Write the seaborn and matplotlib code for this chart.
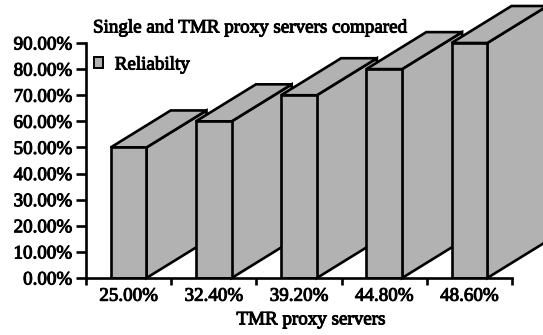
import numpy as np
import pandas as pd
import matplotlib
matplotlib.use("Agg")
import matplotlib.pyplot as plt
import matplotlib.patheffects as pe
from matplotlib.patches import Polygon, Patch
from matplotlib.ticker import FixedLocator, PercentFormatter
import seaborn as sns

# Data
categories = ["25.00%", "32.40%", "39.20%", "44.80%", "48.60%"]
reliability = [0.50, 0.60, 0.70, 0.80, 0.90]
series_name = "Reliabilty"
title = "Single and TMR proxy servers compared"
x_label = "TMR proxy servers"

df = pd.DataFrame({"server": categories, "reliability": reliability})

sns.set_theme(style="white")
plt.rcParams["font.family"] = ["Liberation Serif", "DejaVu Serif"]

W, H = 543, 335
fig = plt.figure(figsize=(W / 100, H / 100), dpi=100)
ax_left, ax_right, ax_top, ax_bottom = 86, 512, 43, 278
ax = fig.add_axes([ax_left / W, 1 - ax_bottom / H,
                   (ax_right - ax_left) / W, (ax_bottom - ax_top) / H])

face = "#b2b2b2"
lw = 1.9
fs = 13.7
heavy = [pe.withStroke(linewidth=0.7, foreground="black")]

sns.barplot(data=df, x="server", y="reliability", color=face, width=0.42,
            edgecolor="black", linewidth=lw, saturation=1, ax=ax)

ax.set_xlim(-0.5, len(categories) - 0.5)
ax.set_ylim(0, 0.9)

# oblique depth of each bar, given in pixels and converted to data units
depth_px = (60, 37)
px_per_x = (ax_right - ax_left) / len(categories)
px_per_y = (ax_bottom - ax_top) / 0.9
dx = depth_px[0] / px_per_x
dy = depth_px[1] / px_per_y

for i, bar in enumerate(ax.patches):
    x0 = bar.get_x()
    x1 = x0 + bar.get_width()
    h = bar.get_height()
    bar.set_zorder(3 + 2 * i)
    bar.set_joinstyle("miter")
    side = Polygon([(x1, 0), (x1 + dx, dy), (x1 + dx, h + dy), (x1, h)],
                   closed=True, facecolor=face, edgecolor="black",
                   linewidth=lw, joinstyle="miter", clip_on=False,
                   zorder=2 + 2 * i)
    top = Polygon([(x0, h), (x1, h), (x1 + dx, h + dy), (x0 + dx, h + dy)],
                  closed=True, facecolor=face, edgecolor="black",
                  linewidth=lw, joinstyle="miter", clip_on=False,
                  zorder=2 + 2 * i)
    ax.add_patch(side)
    ax.add_patch(top)

# axes styling
for s in ["top", "right"]:
    ax.spines[s].set_visible(False)
for s in ["left", "bottom"]:
    ax.spines[s].set_color("black")
    ax.spines[s].set_linewidth(lw)
    ax.spines[s].set_zorder(20)

ax.yaxis.set_major_locator(FixedLocator(np.arange(0, 0.91, 0.1)))
ax.yaxis.set_major_formatter(PercentFormatter(1.0, decimals=2))
ax.tick_params(axis="y", direction="out", length=7, width=lw, color="black",
               pad=3, labelsize=fs, left=True)
ax.xaxis.set_minor_locator(FixedLocator(np.arange(-0.5, len(categories), 1.0)))
ax.tick_params(axis="x", which="major", length=0, pad=7, labelsize=fs)
ax.tick_params(axis="x", which="minor", direction="out", length=5, width=lw,
               color="black", bottom=True)
for lab in ax.get_xticklabels() + ax.get_yticklabels():
    lab.set_color("black")
    lab.set_path_effects(heavy)

ax.set_xlabel(x_label, fontsize=fs, color="black")
ax.xaxis.label.set_path_effects(heavy)
ax.set_ylabel("")
ax.xaxis.set_label_coords((311 - ax_left) / (ax_right - ax_left), -0.142)

fig.text(93 / W, 1 - 28 / H, title, fontsize=fs, color="black",
         ha="left", va="center", path_effects=heavy)

leg = ax.legend(handles=[Patch(facecolor=face, edgecolor="black", linewidth=1.4,
                               label=series_name)],
                loc="center left", bbox_to_anchor=(90 / W, 1 - 65 / H),
                bbox_transform=fig.transFigure, frameon=False,
                prop={"size": fs},
                handlelength=0.5, handleheight=0.5, handletextpad=0.6,
                borderaxespad=0, borderpad=0.2)
leg.set_zorder(30)
for t in leg.get_texts():
    t.set_color("black")
    t.set_path_effects(heavy)

fig.savefig("out.png", dpi=100, facecolor="white")
